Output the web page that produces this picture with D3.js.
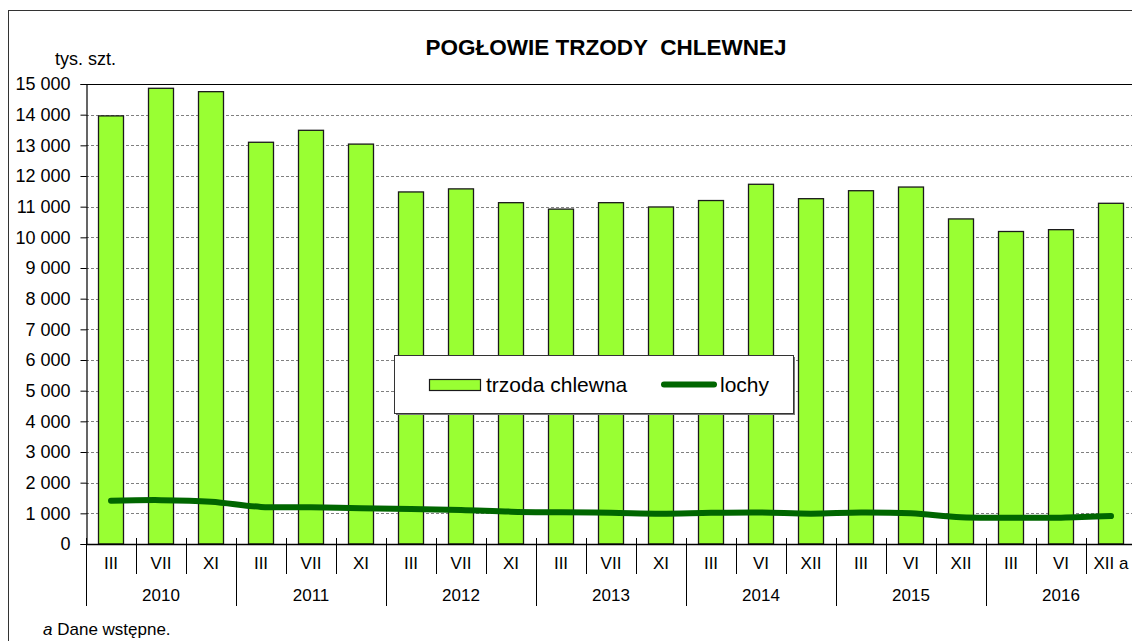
<!DOCTYPE html>
<html>
<head>
<meta charset="utf-8">
<script src="https://cdn.jsdelivr.net/npm/d3@7"></script>
<style>
  html, body { margin: 0; padding: 0; background: #fff; overflow: hidden; }
  svg { display: block; font-family: Arial, "Liberation Sans", sans-serif; }
</style>
</head>
<body>
<svg id="chart" width="1132" height="641"></svg>
<script>
const months = ["III","VII","XI","III","VII","XI","III","VII","XI","III","VII","XI","III","VI","XII","III","VI","XII","III","VI","XII a"];
const years = ["2010","2011","2012","2013","2014","2015","2016"];
const trzoda = [13960, 14860, 14750, 13100, 13490, 13040, 11480, 11580, 11130, 10920, 11130, 10990, 11200, 11730, 11260, 11520, 11640, 10600, 10190, 10250, 11110];
const lochy = [1410, 1430, 1380, 1210, 1200, 1165, 1140, 1110, 1055, 1035, 1020, 990, 1020, 1030, 990, 1030, 1000, 870, 858, 860, 910];
const yTicks = [0,1000,2000,3000,4000,5000,6000,7000,8000,9000,10000,11000,12000,13000,14000,15000];
const titleText = "POGŁOWIE TRZODY  CHLEWNEJ";
const unitText = "tys. szt.";
const legendLabels = ["trzoda chlewna", "lochy"];

const svg = d3.select("#chart");
const pLeft = 86, pRight = 1136, pTop = 84, pBottom = 544;

const x = d3.scaleBand().domain(d3.range(months.length)).range([pLeft, pRight]).paddingInner(0.5).paddingOuter(0.25);
const step = x.step();
const y = d3.scaleLinear().domain([0, 15000]).range([pBottom, pTop]);
const fmt = v => d3.format(",")(v).replace(/,/g, " ");

// outer frame
svg.append("rect").attr("x", 8.5).attr("y", 10.5).attr("width", 1200).attr("height", 700)
  .attr("fill", "none").attr("stroke", "#333").attr("stroke-width", 1);

// title
svg.append("text").attr("x", 606).attr("y", 55).attr("text-anchor", "middle")
  .attr("font-size", 22.5).attr("font-weight", "bold").attr("fill", "#000")
  .attr("xml:space", "preserve").style("white-space", "pre").text(titleText);

// unit
svg.append("text").attr("x", 55).attr("y", 65).attr("font-size", 18).attr("fill", "#000").text(unitText);

// gridlines
svg.append("g").selectAll("line").data(yTicks.filter(d => d > 0 && d < 15000)).join("line")
  .attr("x1", pLeft).attr("x2", pRight)
  .attr("y1", d => Math.round(y(d)) + 0.5).attr("y2", d => Math.round(y(d)) + 0.5)
  .attr("stroke", "#808080").attr("stroke-width", 1).attr("stroke-dasharray", "3,2");

// plot top border
svg.append("line").attr("x1", pLeft).attr("x2", pRight).attr("y1", pTop + 0.5).attr("y2", pTop + 0.5)
  .attr("stroke", "#000").attr("stroke-width", 1.2);

// y axis
const yAxis = d3.axisLeft(y).tickValues(yTicks).tickSize(6).tickPadding(10).tickFormat(fmt);
const ga = svg.append("g").attr("transform", `translate(${pLeft + 0.5},0)`).call(yAxis);
ga.select(".domain").attr("stroke", "#000").attr("stroke-width", 1.2);
ga.selectAll(".tick line").attr("stroke", "#000");
ga.selectAll(".tick text").attr("font-size", 18).attr("fill", "#000").attr("font-family", "Arial, 'Liberation Sans', sans-serif");

// bars
svg.append("g").selectAll("rect").data(trzoda).join("rect")
  .attr("x", (d, i) => x(i))
  .attr("y", d => y(d))
  .attr("width", x.bandwidth())
  .attr("height", d => pBottom - y(d))
  .attr("fill", "#99FF33").attr("stroke", "#1a1a1a").attr("stroke-width", 1.3);

// x axis line
svg.append("line").attr("x1", pLeft).attr("x2", pRight).attr("y1", pBottom + 0.5).attr("y2", pBottom + 0.5)
  .attr("stroke", "#000").attr("stroke-width", 1.5);

// category ticks
const bounds = d3.range(months.length + 1);
svg.append("g").selectAll("line").data(bounds).join("line")
  .attr("x1", i => Math.round(pLeft + i * step) + 0.5).attr("x2", i => Math.round(pLeft + i * step) + 0.5)
  .attr("y1", 538).attr("y2", i => (i % 3 === 0) ? 606 : 574)
  .attr("stroke", "#000").attr("stroke-width", 1);

// month labels
svg.append("g").selectAll("text").data(months).join("text")
  .attr("x", (d, i) => x(i) + x.bandwidth() / 2)
  .attr("y", 569).attr("text-anchor", "middle").attr("font-size", 17).attr("fill", "#000")
  .text(d => d);

// year labels
svg.append("g").selectAll("text").data(years).join("text")
  .attr("x", (d, i) => pLeft + (i * 3 + 1.5) * step)
  .attr("y", 601).attr("text-anchor", "middle").attr("font-size", 17).attr("fill", "#000")
  .text(d => d);

// line
const line = d3.line().x((d, i) => x(i) + x.bandwidth() / 2).y(d => y(d)).curve(d3.curveCatmullRom.alpha(0.5));
svg.append("path").datum(lochy).attr("d", line)
  .attr("fill", "none").attr("stroke", "#006600").attr("stroke-width", 6).attr("stroke-linecap", "round");

// legend
const lg = svg.append("g");
lg.append("rect").attr("x", 396).attr("y", 357).attr("width", 399).attr("height", 58).attr("fill", "#777");
lg.append("rect").attr("x", 394.5).attr("y", 355.5).attr("width", 399).attr("height", 58)
  .attr("fill", "#fff").attr("stroke", "#333").attr("stroke-width", 1);
lg.append("rect").attr("x", 429.5).attr("y", 379.5).attr("width", 51).attr("height", 11)
  .attr("fill", "#99FF33").attr("stroke", "#1a1a1a").attr("stroke-width", 1.2);
lg.append("text").attr("x", 486).attr("y", 392).attr("font-size", 21).attr("fill", "#000").text(legendLabels[0]);
lg.append("line").attr("x1", 664).attr("x2", 714).attr("y1", 384.5).attr("y2", 384.5)
  .attr("stroke", "#006600").attr("stroke-width", 6).attr("stroke-linecap", "round");
lg.append("text").attr("x", 720).attr("y", 392).attr("font-size", 21).attr("fill", "#000").text(legendLabels[1]);

// footnote
const fn = svg.append("text").attr("x", 43).attr("y", 635).attr("font-size", 17).attr("fill", "#000");
fn.append("tspan").attr("font-style", "italic").text("a");
fn.append("tspan").text(" Dane wstępne.");
</script>
</body>
</html>
